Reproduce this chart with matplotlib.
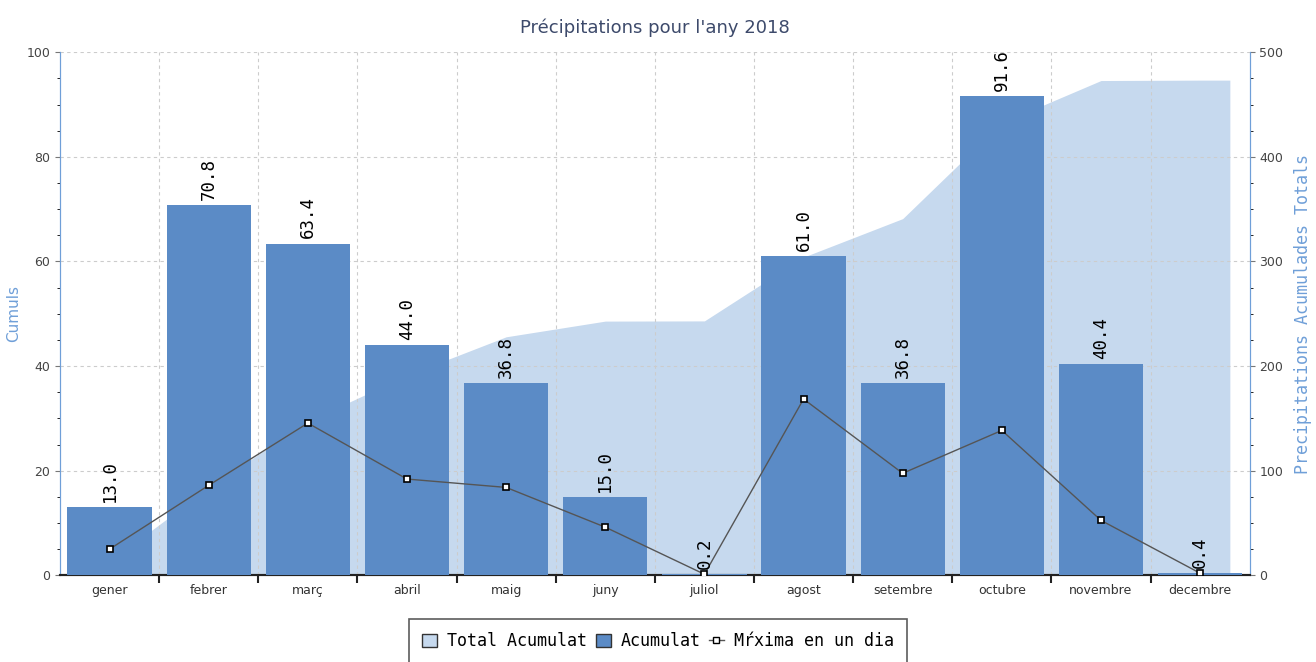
import numpy as np
import matplotlib.pyplot as plt
from matplotlib.ticker import MultipleLocator
from matplotlib.patches import Patch
from matplotlib.lines import Line2D

# Monthly data for 2018
months = ['gener', 'febrer', 'març', 'abril', 'maig', 'juny',
          'juliol', 'agost', 'setembre', 'octubre', 'novembre', 'decembre']
monthly_total = [13.0, 70.8, 63.4, 44.0, 36.8, 15.0, 0.2, 61.0, 36.8, 91.6, 40.4, 0.4]
max_one_day = [5.0, 17.2, 29.1, 18.4, 16.8, 9.2, 0.2, 33.7, 19.5, 27.7, 10.5, 0.4]

cumulative = np.cumsum(monthly_total)

bar_color = '#5b8bc6'
area_color = '#c6d9ee'
axis_blue = '#6f9fd8'
mono = 'DejaVu Sans Mono'

fig = plt.figure(figsize=(13.16, 6.62), dpi=100)
ax = fig.add_axes([0.0456, 0.131, 0.904, 0.790])
ax2 = ax.twinx()

x = np.arange(len(months))

# cumulative area on the right axis (drawn below everything)
xa = np.concatenate([[-0.3], x, [11.3]])
ya = np.concatenate([[cumulative[0]], cumulative, [cumulative[-1]]])
ax2.fill_between(xa, 0, ya, color=area_color, lw=0, zorder=1)
ax2.set_ylim(0, 500)
ax2.yaxis.set_major_locator(MultipleLocator(100))
ax2.yaxis.set_minor_locator(MultipleLocator(25))
ax2.set_ylabel('Precipitations Acumulades Totals', color=axis_blue,
               fontsize=12, family=mono)
ax2.yaxis.set_label_coords(1.037, 0.5)

# put main axis on top
ax.set_zorder(ax2.get_zorder() + 1)
ax.patch.set_visible(False)

ax.bar(x, monthly_total, width=0.85, color=bar_color, zorder=3)
for xi, v in zip(x, monthly_total):
    ax.text(xi, v + 1.0, f'{v:.1f}', rotation=90, ha='center', va='bottom',
            fontsize=12.5, family=mono, color='black', zorder=5)

ax.plot(x, max_one_day, color='#555555', lw=1, marker='s', markersize=4,
        markerfacecolor='white', markeredgecolor='black', markeredgewidth=1.2,
        zorder=4)

ax.set_xlim(-0.5, 11.5)
ax.set_ylim(0, 100)
ax.set_xticks(x)
ax.set_xticklabels(months, fontsize=9, color='#333333')
ax.set_xticks(np.arange(0.5, 11.5, 1), minor=True)
ax.tick_params(axis='x', which='major', length=0, pad=6)
ax.tick_params(axis='x', which='minor', length=6, width=1.5, color='#222222')
ax.yaxis.set_major_locator(MultipleLocator(20))
ax.yaxis.set_minor_locator(MultipleLocator(5))
ax.tick_params(axis='y', labelsize=9, labelcolor='#444444', color='#777777')
ax2.tick_params(axis='y', labelsize=9, labelcolor='#444444', color='#777777')
ax.set_ylabel('Cumuls', color=axis_blue, fontsize=11)
ax.yaxis.set_label_coords(-0.033, 0.5)

ax.grid(True, which='major', axis='y', ls=(0, (3, 3)), color='#cccccc', lw=0.8, zorder=0)
ax.grid(True, which='minor', axis='x', ls=(0, (3, 3)), color='#cccccc', lw=0.8, zorder=0)

for a in (ax, ax2):
    a.spines['top'].set_visible(False)
    a.spines['left'].set_color(axis_blue)
    a.spines['right'].set_color(axis_blue)
    a.spines['bottom'].set_color('#222222')
    a.spines['bottom'].set_linewidth(1.5)

ax.set_title("Précipitations pour l'any 2018", fontsize=13, color='#3d4a6b', pad=14)

handles = [Patch(facecolor=area_color, edgecolor='#333333'),
           Patch(facecolor=bar_color, edgecolor='#333333'),
           Line2D([], [], color='#555555', lw=1, marker='s', markersize=4,
                  markerfacecolor='white', markeredgecolor='black')]
leg = fig.legend(handles, ['Total Acumulat', 'Acumulat', 'Mŕxima en un dia'],
                 loc='lower center', bbox_to_anchor=(0.5, -0.01), ncol=3,
                 prop={'family': mono, 'size': 12}, frameon=True, fancybox=False,
                 handlelength=0.9, handleheight=0.9, handletextpad=0.6,
                 columnspacing=0.5, borderpad=0.8, borderaxespad=0.3)
leg.get_frame().set_edgecolor('#333333')
leg.get_frame().set_linewidth(1.2)

fig.savefig('out.png', dpi=100)
